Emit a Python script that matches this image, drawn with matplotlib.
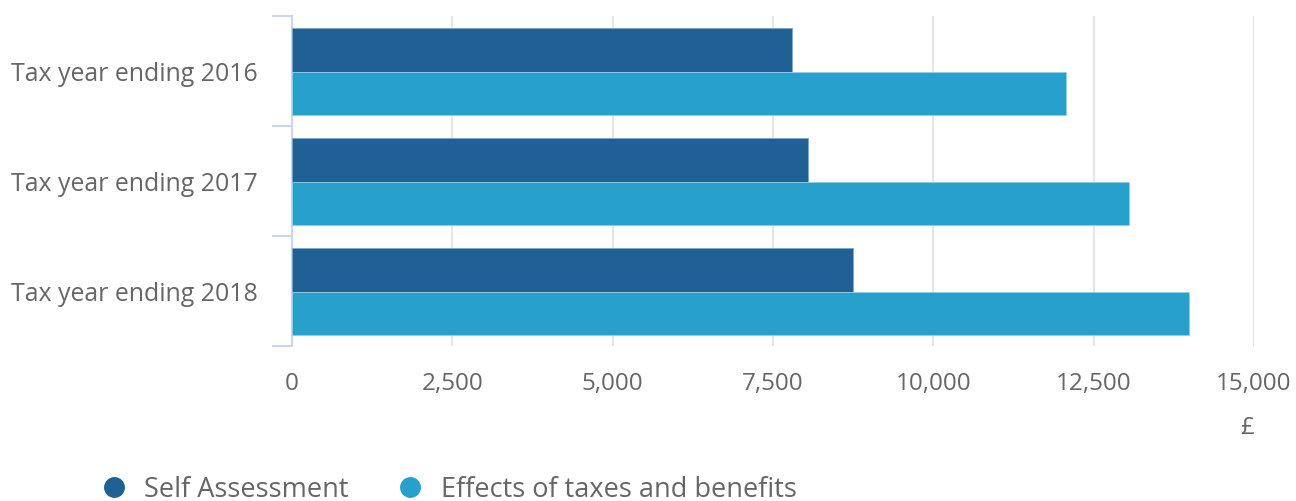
import matplotlib.pyplot as plt
from matplotlib.lines import Line2D
from matplotlib.ticker import FuncFormatter

plt.rcParams['font.family'] = ['Open Sans', 'DejaVu Sans']

categories = ["Tax year ending 2016", "Tax year ending 2017", "Tax year ending 2018"]
self_assessment = [7800, 8045, 8745]
effects_taxes_benefits = [12065, 13045, 13980]
series_names = ["Self Assessment", "Effects of taxes and benefits"]

dark_blue = "#206095"
light_blue = "#27a0cc"
text_grey = "#666666"
axis_col = "#ccd6eb"

W, H = 1296, 502
fig = plt.figure(figsize=(W / 100, H / 100), dpi=100)
ax = fig.add_axes([292 / W, (H - 347) / H, (1254 - 292) / W, (347 - 17) / H])

pos = range(len(categories))
bar_h = 0.395
ax.barh([p - 0.19 for p in pos], self_assessment, height=bar_h, color=dark_blue,
        edgecolor="#7fa7c9", linewidth=0.6, zorder=3)
ax.barh([p + 0.205 for p in pos], effects_taxes_benefits, height=bar_h, color=light_blue,
        edgecolor="#8fd0e8", linewidth=0.6, zorder=3)

ax.set_xlim(0, 15000)
ax.set_ylim(2.5, -0.5)
ax.set_xticks(range(0, 15001, 2500))
ax.xaxis.set_major_formatter(FuncFormatter(lambda v, _: f"{int(v):,}"))
ax.grid(axis="x", color="#e6e6e6", linewidth=1.5, zorder=0)

ax.set_yticks(list(pos))
ax.set_yticklabels(categories)
ax.set_yticks([-0.5, 0.5, 1.5, 2.5], minor=True)
ax.tick_params(axis="y", which="major", length=0, pad=25, labelsize=17.9, labelcolor=text_grey)
ax.tick_params(axis="y", which="minor", length=14.5, width=1.5, color=axis_col)
ax.tick_params(axis="x", length=0, pad=18, labelsize=17.5, labelcolor=text_grey)

for s in ["top", "right", "bottom"]:
    ax.spines[s].set_visible(False)
ax.spines["left"].set_color(axis_col)
ax.spines["left"].set_linewidth(1.5)

fig.text(1247 / W, 1 - 428 / H, "£", ha="center", va="center", fontsize=17.5, color=text_grey)

handles = [Line2D([], [], marker="o", linestyle="", markersize=14, color=c)
           for c in (dark_blue, light_blue)]
fig.legend(handles, series_names, loc="center left", bbox_to_anchor=(100 / W, 1 - 490 / H),
           ncol=2, frameon=False, fontsize=19.5, labelcolor=text_grey, handlelength=1.0,
           handletextpad=0.63, columnspacing=1.77, borderaxespad=0, borderpad=0)

fig.savefig("out.png", dpi=100, facecolor="white")
